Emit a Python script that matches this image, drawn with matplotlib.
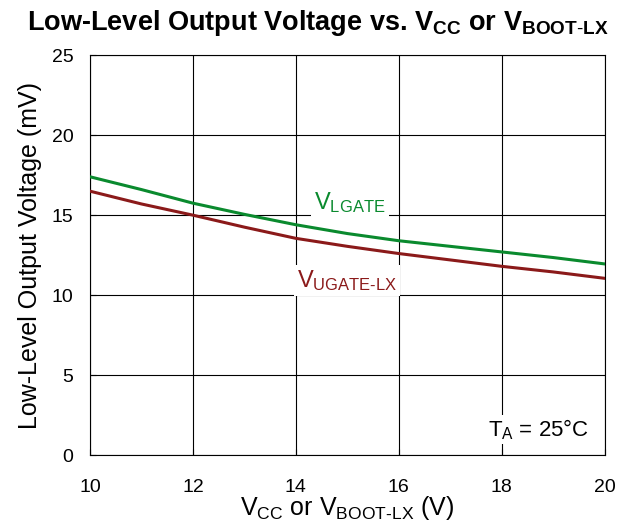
import numpy as np
import matplotlib.pyplot as plt

plt.rcParams['font.family'] = ['Liberation Sans', 'DejaVu Sans']
plt.rcParams['mathtext.fontset'] = 'custom'
plt.rcParams['mathtext.rm'] = 'Liberation Sans'
plt.rcParams['mathtext.it'] = 'Liberation Sans'
plt.rcParams['mathtext.bf'] = 'Liberation Sans:bold'

# data
vcc = [10, 11, 12, 13, 14, 15, 16, 17, 18, 19, 20]
v_lgate = [17.4, 16.6, 15.75, 15.05, 14.4, 13.85, 13.4, 13.05, 12.7, 12.35, 11.95]
v_ugate = [16.5, 15.7, 15.0, 14.25, 13.55, 13.05, 12.6, 12.2, 11.8, 11.45, 11.05]

x_ticks = [10, 12, 14, 16, 18, 20]
y_ticks = [0, 5, 10, 15, 20, 25]

fig = plt.figure(figsize=(6.18, 5.31), dpi=100)
ax = fig.add_axes([0.1456, 0.143, 0.833, 0.753])

ax.plot(vcc, v_lgate, color='#0a8a2e', lw=2.2, zorder=3)
ax.plot(vcc, v_ugate, color='#8b1a1a', lw=2.2, zorder=3)

ax.set_xlim(10, 20)
ax.set_ylim(0, 25)
ax.set_xticks(x_ticks)
ax.set_yticks(y_ticks)
ax.grid(True, color='black', lw=0.8)
ax.tick_params(labelsize=14, length=4, width=0.8, direction='in')
ax.tick_params(axis='x', pad=17)
ax.tick_params(axis='y', pad=12)
for s in ax.spines.values():
    s.set_linewidth(0.8)

ax.set_xlabel(r'V$_{\mathregular{CC}}$ or V$_{\mathregular{BOOT\text{-}LX}}$ (V)', fontsize=18, labelpad=-1)
ax.set_ylabel('Low-Level Output Voltage (mV)', fontsize=18, labelpad=7)
fig.suptitle(r'Low-Level Output Voltage vs. V$_{\mathbf{CC}}$ or V$_{\mathbf{BOOT\text{-}LX}}$',
             fontsize=19.5, fontweight='bold', x=0.515, y=0.985)

box = dict(facecolor='white', edgecolor='none', pad=2)
ax.text(15.05, 15.8, r'V$_{\mathregular{LGATE}}$', color='#0a8a2e', fontsize=17,
        ha='center', va='center', bbox=box, zorder=4)
ax.text(15.0, 10.9, r'V$_{\mathregular{UGATE\text{-}LX}}$', color='#8b1a1a', fontsize=17,
        ha='center', va='center', bbox=box, zorder=4)
ax.text(19.7, 1.6, r'T$_{\mathregular{A}}$ = 25°C', color='black', fontsize=16,
        ha='right', va='center', bbox=box, zorder=4)

fig.savefig('out.png', dpi=100)
